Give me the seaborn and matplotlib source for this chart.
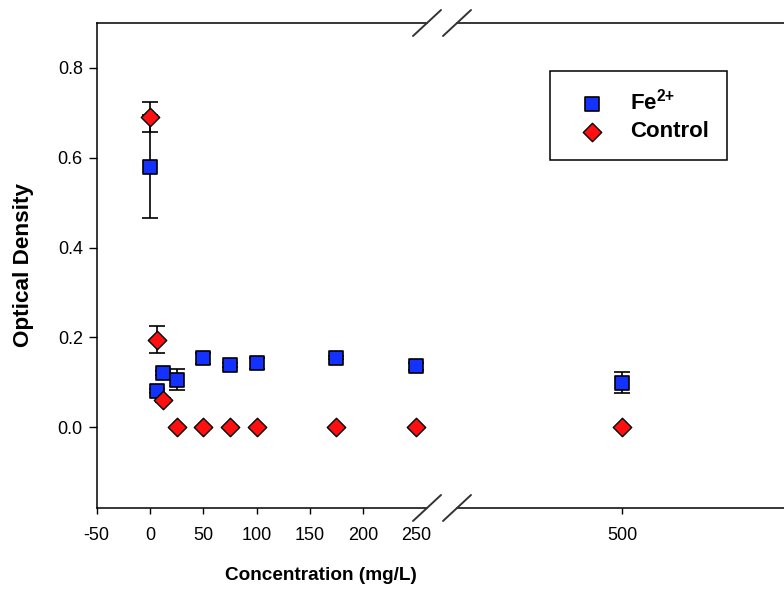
import matplotlib
matplotlib.use("Agg")
import matplotlib.pyplot as plt
import seaborn as sns
import pandas as pd
import numpy as np

conc = [0, 6.25, 12.5, 25, 50, 75, 100, 175, 250, 500]
fe = [0.58, 0.080, 0.121, 0.106, 0.153, 0.138, 0.142, 0.155, 0.136, 0.099]
fe_err = [0.115, 0.004, 0.004, 0.023, 0.012, 0.004, 0.012, 0.004, 0.008, 0.023]
ctrl = [0.69, 0.195, 0.060, 0.0, 0.0, 0.0, 0.0, 0.0, 0.0, 0.0]
ctrl_err = [0.033, 0.030, 0.004, 0.0, 0.0, 0.0, 0.0, 0.0, 0.0, 0.0]
xticks_left = [-50, 0, 50, 100, 150, 200, 250]
xticks_right = [500]
yticks = [0.0, 0.2, 0.4, 0.6, 0.8]

sns.set_style("white")
plt.rcParams['font.family'] = ['Liberation Sans', 'DejaVu Sans']
plt.rcParams['mathtext.fontset'] = 'custom'
plt.rcParams['mathtext.bf'] = 'Liberation Sans:bold'
plt.rcParams['mathtext.rm'] = 'Liberation Sans:bold'
plt.rcParams['mathtext.default'] = 'bf'
plt.rcParams['text.color'] = 'black'
plt.rcParams['xtick.color'] = 'black'
plt.rcParams['ytick.color'] = 'black'

df = pd.DataFrame({"conc": conc, "fe": fe, "fe_err": fe_err,
                   "ctrl": ctrl, "ctrl_err": ctrl_err})

W, H = 784, 593
fig = plt.figure(figsize=(W / 100, H / 100), dpi=100)
x0, x1, x2 = 96.7, 427, 457
ytop, ybot = 23, 508
axL = fig.add_axes([x0 / W, (H - ybot) / H, (x1 - x0) / W, (ybot - ytop) / H])
axR = fig.add_axes([x2 / W, (H - ybot) / H, (W - x2) / W, (ybot - ytop) / H], sharey=axL)

blue = "#1432ff"
red = "#ff1010"
for ax in (axL, axR):
    ax.errorbar(df["conc"], df["fe"], yerr=df["fe_err"], fmt="none", ecolor="black",
                elinewidth=1.2, capsize=5.5, capthick=1.2, zorder=2)
    ax.errorbar(df["conc"], df["ctrl"], yerr=df["ctrl_err"], fmt="none", ecolor="black",
                elinewidth=1.2, capsize=5.5, capthick=1.2, zorder=2)
    sns.scatterplot(data=df, x="conc", y="fe", marker="s", s=95, color=blue,
                    edgecolor="black", linewidth=1.2, ax=ax, zorder=3,
                    label="Fe$^{2{+}}$" if ax is axR else None)
    sns.scatterplot(data=df, x="conc", y="ctrl", marker="D", s=88, color=red,
                    edgecolor="black", linewidth=1.0, ax=ax, zorder=4,
                    label="Control" if ax is axR else None)
    ax.set_ylim(-0.18, 0.9)
    ax.set_xlabel("")
    ax.set_ylabel("")
    for s in ax.spines.values():
        s.set_linewidth(1.1)
        s.set_color("black")
    ax.tick_params(axis="x", direction="out", length=4.5, width=1.0,
                   labelsize=13, color="black", pad=9)
    ax.tick_params(axis="y", direction="out", length=6, width=1.0,
                   labelsize=13, color="black", pad=4)

axL.set_xlim(-50, 260)
axR.set_xlim(345, 652)
axL.set_xticks(xticks_left)
axL.set_xticklabels([str(v) for v in xticks_left])
axR.set_xticks(xticks_right)
axR.set_xticklabels([str(v) for v in xticks_right])
axL.set_yticks(yticks)
axL.set_yticklabels([f"{v:.1f}" for v in yticks])
axL.spines["right"].set_visible(False)
axR.spines["left"].set_visible(False)
axR.spines["right"].set_visible(False)
axR.tick_params(axis="y", left=False, labelleft=False)
axL.tick_params(axis="x", bottom=True)
axL.tick_params(axis="y", left=True)
axR.tick_params(axis="x", bottom=True)
axL.xaxis.get_major_ticks()[-1].tick1line.set_visible(False)

fig.text(24 / W, (H - 265) / H, "Optical Density", fontsize=16.2, fontweight="bold",
         ha="center", va="center", rotation=90)
fig.text(321 / W, (H - 575) / H, "Concentration (mg/L)", fontsize=13.7,
         fontweight="bold", ha="center", va="center")

# break marks
dx, dy = 14, 13
for xc in (x1, x2):
    for yc in (ytop, ybot):
        fig.add_artist(plt.Line2D([(xc - dx) / W, (xc + dx) / W],
                                  [(H - yc - dy) / H, (H - yc + dy) / H],
                                  color="#333333", lw=1.4))

leg = axR.legend(loc="upper left",
                 bbox_to_anchor=((550 - x2) / (W - x2), 1 - (71 - ytop) / (ybot - ytop)),
                 frameon=True, fancybox=False, edgecolor="black", framealpha=1,
                 prop={"weight": "bold", "size": 16}, borderpad=0.8, handletextpad=0.6,
                 labelspacing=0.3, borderaxespad=0, handlelength=2.2)
leg.get_frame().set_linewidth(1.1)

fig.savefig("out.png", dpi=100)
